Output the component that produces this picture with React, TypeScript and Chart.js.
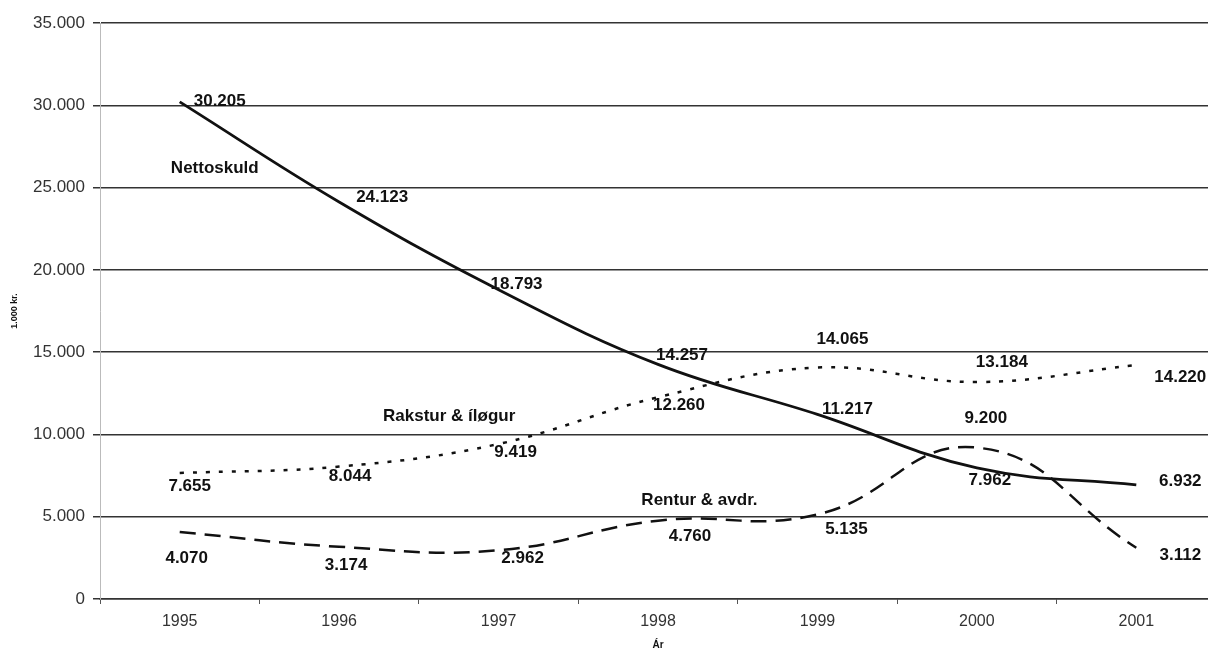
import React, { useEffect, useRef } from "react";
import { Chart, registerables } from "chart.js";

Chart.register(...registerables);

const years = ["1995", "1996", "1997", "1998", "1999", "2000", "2001"];
const nettoskuld = [30205, 24123, 18793, 14257, 11217, 7962, 6932];
const rakstur = [7655, 8044, 9419, 12260, 14065, 13184, 14220];
const rentur = [4070, 3174, 2962, 4760, 5135, 9200, 3112];
const seriesNames = ["Nettoskuld", "Rakstur & íløgur", "Rentur & avdr."];
const yTitle = "1.000 kr.";
const xTitle = "Ár";

// label offsets (pixels) relative to each point, per series
const labelOffsets = [
  [[40, -1], [43, -5], [18, -5], [24, -9], [30, -5], [13, 12], [44, -4]],
  [[10, 13], [11, 10], [17, 8], [21, 8], [25, -28], [25, -20], [44, 12]],
  [[7, 26], [7, 19], [24, 8], [32, 16], [29, 15], [9, -29], [44, 8]],
];
// series name anchors in data coordinates (category index, value)
const nameAnchors = [
  [0.22, 26200],
  [1.69, 11100],
  [3.26, 6000],
];

const fmt = (v: number) => String(Math.round(v)).replace(/\B(?=(\d{3})+(?!\d))/g, ".");
const FAMILY = "'Liberation Sans', Arial, sans-serif";

const labelPlugin = {
  id: "valueLabels",
  afterDatasetsDraw(chart: any) {
    const ctx = chart.ctx;
    ctx.save();
    ctx.fillStyle = "#111";
    ctx.font = `bold 17px ${FAMILY}`;
    ctx.textAlign = "center";
    ctx.textBaseline = "middle";
    chart.data.datasets.forEach((ds: any, di: number) => {
      const meta = chart.getDatasetMeta(di);
      meta.data.forEach((pt: any, i: number) => {
        const off = labelOffsets[di][i];
        ctx.fillText(fmt(ds.data[i]), pt.x + off[0], pt.y + off[1]);
      });
    });
    const xs = chart.scales.x;
    const ys = chart.scales.y;
    nameAnchors.forEach((a, i) => {
      ctx.fillText(seriesNames[i], xs.getPixelForValue(a[0]), ys.getPixelForValue(a[1]));
    });
    ctx.restore();
  },
};

export default function App() {
  const ref = useRef<HTMLCanvasElement | null>(null);
  useEffect(() => {
    if (!ref.current) return;
    const chart = new Chart(ref.current, {
      type: "line",
      data: {
        labels: years,
        datasets: [
          {
            label: seriesNames[0],
            data: nettoskuld,
            borderColor: "#111",
            borderWidth: 2.8,
            pointRadius: 0,
            tension: 0.4,
          },
          {
            label: seriesNames[1],
            data: rakstur,
            borderColor: "#111",
            borderWidth: 2.5,
            borderDash: [4, 9],
            pointRadius: 0,
            tension: 0.4,
          },
          {
            label: seriesNames[2],
            data: rentur,
            borderColor: "#111",
            borderWidth: 2.5,
            borderDash: [16, 9],
            pointRadius: 0,
            tension: 0.45,
          },
        ],
      },
      options: {
        responsive: false,
        animation: false,
        devicePixelRatio: 1,
        layout: { padding: { top: 23, left: 0, right: 0, bottom: 0 } },
        plugins: {
          legend: { display: false },
          tooltip: { enabled: false },
        },
        scales: {
          x: {
            offset: true,
            grid: {
              offset: true,
              drawOnChartArea: false,
              drawTicks: true,
              tickLength: 5,
              color: "#555",
            },
            border: { display: true, color: "#333", width: 1.5 },
            ticks: {
              color: "#333",
              font: { family: FAMILY, size: 16 },
              padding: 8,
              maxRotation: 0,
            },
            title: {
              display: true,
              text: xTitle,
              color: "#111",
              font: { family: FAMILY, size: 10, weight: "bold" },
              padding: { top: 0, bottom: 0 },
            },
            afterFit: (s: any) => {
              s.height = 52;
            },
          },
          y: {
            min: 0,
            max: 35000,
            ticks: {
              stepSize: 5000,
              color: "#333",
              font: { family: FAMILY, size: 17 },
              padding: 8,
              callback: (v: any) => fmt(Number(v)),
            },
            grid: {
              color: "#333",
              lineWidth: 1.5,
              tickLength: 7,
            },
            border: { display: true, color: "#bbb", width: 1 },
            title: {
              display: true,
              text: yTitle,
              color: "#111",
              font: { family: FAMILY, size: 9, weight: "bold" },
              padding: { top: 9, bottom: 0 },
            },
            afterFit: (s: any) => {
              s.width = 100;
            },
          },
        },
      },
      plugins: [labelPlugin],
    });
    return () => chart.destroy();
  }, []);
  return (
    <div
      style={{
        position: "absolute",
        left: 0,
        top: 0,
        width: 1208,
        height: 651,
        overflow: "hidden",
        background: "#fff",
      }}
    >
      <canvas ref={ref} width={1216} height={651} style={{ display: "block" }} />
    </div>
  );
}
